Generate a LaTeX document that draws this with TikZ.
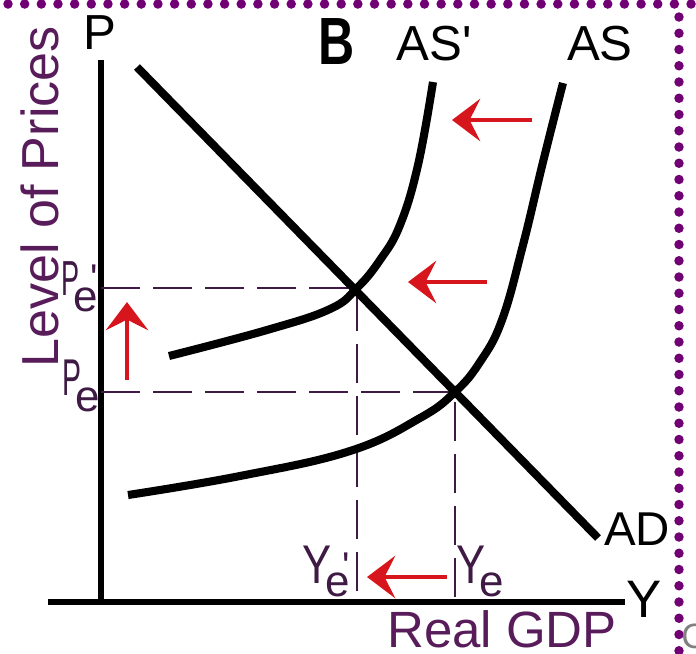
\documentclass[tikz,border=0pt]{standalone}
\usepackage{fontspec}
\setmainfont{Liberation Sans}
\usetikzlibrary{arrows.meta}

\definecolor{dotpurple}{RGB}{112,0,116}
\definecolor{labpurple}{RGB}{88,28,90}
\definecolor{eqpurple}{RGB}{62,26,68}
\definecolor{shiftred}{RGB}{214,22,28}

\tikzset{
  ascurve/.style={line width=2.3pt},
  axisline/.style={line width=1.5pt},
  eqdash/.style={eqpurple, line width=0.7pt, dash pattern=on 11pt off 3.8pt},
  redarrow/.style={shiftred, line width=1.3pt, -{Stealth[length=8pt,width=12pt,inset=3pt]}},
  txtlab/.style={inner sep=0pt, font=\fontsize{14}{16}\selectfont},
  eqlab/.style={inner sep=0pt, anchor=base west, eqpurple},
}

% subscript e and prime of the equilibrium labels
\newcommand{\subE}[1]{\kern-1.8pt\raisebox{-#1}{\fontsize{12.5}{13}\selectfont e}}
\newcommand{\primeE}{\kern-2.2pt\raisebox{1pt}{\fontsize{11}{12}\selectfont\textquotesingle}}

\begin{document}
\begin{tikzpicture}[x=0.01cm, y=-0.01cm]
  \useasboundingbox (0,0) rectangle (696,653);
  % Dotted frame
  \foreach \i in {0,...,41}
    \fill[dotpurple] (8+\i*16.66,4) circle (1.35pt);
  \foreach \j in {0,...,39}
    \fill[dotpurple] (679,17+\j*16.25) circle (1.35pt);
  % Axes
  \coordinate (O) at (101,602);
  \draw[axisline] (101,60) -- (O);
  \draw[axisline] (48,602) -- (625,602);
  % Equilibria
  \coordinate (E1) at (455,392);
  \coordinate (E2) at (357,288);
  \draw[eqdash] (O |- E2) -- (E2) -- (E2 |- O);
  \draw[eqdash] (O |- E1) -- (E1) -- (E1 |- O);
  % AD and AS curves
  \draw[ascurve] (137,67) -- (598,538);
  \draw[ascurve] plot[smooth, tension=0.7] coordinates
    {(128,495) (240,476) (350,451) (420,418) (455,392) (480,362) (502,320) (523,245) (543,162) (563,83)};
  \draw[ascurve] plot[smooth, tension=0.7] coordinates
    {(169,356) (267,330) (330,309) (357,288) (380,260) (400,225) (418,165) (433,82)};
  % Shift arrows
  \draw[redarrow] (532,120) -- (452,120);
  \draw[redarrow] (487,282) -- (408,282);
  \draw[redarrow] (447,577) -- (367,577);
  \draw[redarrow] (127,380) -- (127,302);
  % Labels
  \node[txtlab] (Plab) at (100,33) {P};
  \node[txtlab, font=\fontsize{19}{20}\selectfont\bfseries] (Blab) at (337,41) {\scalebox{0.75}[1]{B}};
  \node[txtlab] (ASplab) at (434,44) {AS\textquotesingle};
  \node[txtlab] (ASlab) at (600,44) {AS};
  \node[txtlab, font=\fontsize{13.5}{15}\selectfont] (ADlab) at (637,529) {AD};
  \node[txtlab, font=\fontsize{15}{16}\selectfont] (Ylab) at (644,599) {Y};
  \node[txtlab, labpurple, font=\fontsize{14.8}{16}\selectfont, rotate=90] (levlab) at (40,197) {Level of Prices};
  \node[txtlab, labpurple, font=\fontsize{14.5}{16}\selectfont] (gdplab) at (502,629) {Real GDP};
  \node[txtlab, gray, font=\fontsize{10}{11}\selectfont] (clab) at (694,636) {C};
  \node[eqlab, font=\fontsize{14}{16}\selectfont] (Pe2) at (61,295) {\scalebox{0.55}[1]{P}\subE{4.6pt}\primeE};
  \node[eqlab, font=\fontsize{14.7}{16}\selectfont] (Pe1) at (62,395) {\scalebox{0.55}[1]{P}\subE{4.8pt}};
  \node[eqlab, font=\fontsize{15.5}{16}\selectfont] (Ye2) at (302,583) {\scalebox{0.8}[1]{Y}\subE{3.7pt}\primeE};
  \node[eqlab, font=\fontsize{15.5}{16}\selectfont] (Ye1) at (456,583) {\scalebox{0.8}[1]{Y}\subE{3.7pt}};
\end{tikzpicture}
\end{document}
